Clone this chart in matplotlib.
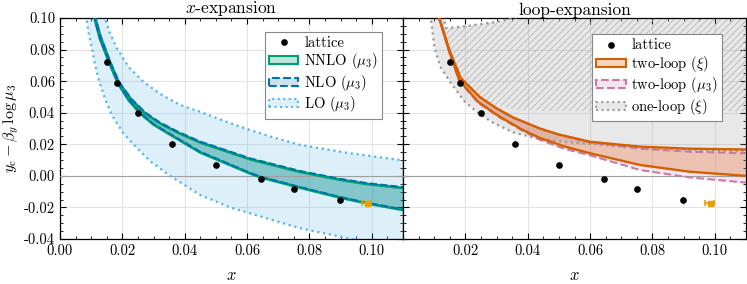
import numpy as np
import matplotlib
matplotlib.use("Agg")
import matplotlib.pyplot as plt
from matplotlib.patches import Patch
from matplotlib.lines import Line2D

plt.rcParams['font.family'] = 'serif'
plt.rcParams['font.serif'] = ['cmr10']
plt.rcParams['mathtext.fontset'] = 'cm'
plt.rcParams['axes.formatter.use_mathtext'] = True
plt.rcParams['hatch.linewidth'] = 0.6
plt.rcParams['hatch.color'] = '#b5b5b5'

# lattice data
lat_x = [0.0152, 0.0182, 0.0250, 0.0359, 0.0500, 0.0645, 0.0750, 0.0897]
lat_y = [0.0719, 0.0588, 0.0398, 0.0202, 0.0067, -0.0018, -0.0085, -0.0155]
extra_x = [0.0983]
extra_y = [-0.0175]
extra_xerr = [0.0015]

# x-expansion curves
nnlo_up_x = [0.0110, 0.0130, 0.0161, 0.0190, 0.0230, 0.0273, 0.0320, 0.0380, 0.0449, 0.0610, 0.0770, 0.0899, 0.0985, 0.1100]
nnlo_up_y = [0.1020, 0.0880, 0.0717, 0.0586, 0.0480, 0.0396, 0.0333, 0.0272, 0.0212, 0.0105, 0.0025, -0.0025, -0.0052, -0.0077]
nnlo_lo_x = [0.0108, 0.0128, 0.0158, 0.0186, 0.0220, 0.0257, 0.0300, 0.0353, 0.0449, 0.0610, 0.0645, 0.0770, 0.0899, 0.0985, 0.1100]
nnlo_lo_y = [0.1020, 0.0870, 0.0717, 0.0586, 0.0480, 0.0396, 0.0325, 0.0262, 0.0149, 0.0015, -0.0010, -0.0075, -0.0138, -0.0175, -0.0216]

nlo_up_x = [0.0110, 0.0130, 0.0161, 0.0190, 0.0230, 0.0273, 0.0320, 0.0380, 0.0449, 0.0610, 0.0770, 0.0899, 0.0985, 0.1100]
nlo_up_y = [0.1026, 0.0886, 0.0723, 0.0592, 0.0486, 0.0402, 0.0339, 0.0278, 0.0218, 0.0111, 0.0031, -0.0019, -0.0046, -0.0071]
nlo_lo_x = [0.0108, 0.0128, 0.0158, 0.0186, 0.0220, 0.0257, 0.0300, 0.0353, 0.0449, 0.0610, 0.0645, 0.0770, 0.0899, 0.0985, 0.1100]
nlo_lo_y = [0.1024, 0.0874, 0.0721, 0.0590, 0.0484, 0.0400, 0.0329, 0.0266, 0.0153, 0.0019, -0.0006, -0.0071, -0.0134, -0.0171, -0.0212]

lo_up_x = [0.0140, 0.0160, 0.0182, 0.0220, 0.0267, 0.0320, 0.0385, 0.0449, 0.0530, 0.0610, 0.0690, 0.0770, 0.0930, 0.1100]
lo_up_y = [0.1020, 0.0905, 0.0810, 0.0690, 0.0597, 0.0520, 0.0449, 0.0406, 0.0345, 0.0290, 0.0240, 0.0196, 0.0143, 0.0098]
lo_lo_x = [0.0083, 0.0092, 0.0102, 0.0113, 0.0126, 0.0145, 0.0166, 0.0203, 0.0235, 0.0290, 0.0353, 0.0449, 0.0546, 0.0610, 0.0770, 0.0899, 0.1100]
lo_lo_y = [0.1020, 0.0905, 0.0810, 0.0700, 0.0597, 0.0485, 0.0386, 0.0270, 0.0200, 0.0092, 0.0000, -0.0121, -0.0200, -0.0237, -0.0332, -0.0385, -0.0470]

# loop-expansion curves
xi2_up_x = [0.0113, 0.0150, 0.0185, 0.0246, 0.0300, 0.0353, 0.0439, 0.0500, 0.0600, 0.0760, 0.0920, 0.1100]
xi2_up_y = [0.1020, 0.0790, 0.0620, 0.0500, 0.0428, 0.0370, 0.0300, 0.0262, 0.0216, 0.0185, 0.0172, 0.0167]
xi2_lo_x = [0.0113, 0.0148, 0.0180, 0.0240, 0.0310, 0.0380, 0.0439, 0.0520, 0.0600, 0.0760, 0.0920, 0.1100]
xi2_lo_y = [0.1020, 0.0790, 0.0607, 0.0470, 0.0375, 0.0295, 0.0240, 0.0185, 0.0143, 0.0069, 0.0026, 0.0000]

mu2_up_x = [0.0113, 0.0150, 0.0185, 0.0246, 0.0300, 0.0353, 0.0439, 0.0500, 0.0600, 0.0760, 0.0920, 0.1100]
mu2_up_y = [0.1018, 0.0788, 0.0618, 0.0498, 0.0426, 0.0368, 0.0298, 0.0259, 0.0211, 0.0172, 0.0153, 0.0143]
mu2_lo_x = [0.0113, 0.0148, 0.0180, 0.0240, 0.0310, 0.0380, 0.0439, 0.0520, 0.0600, 0.0760, 0.0920, 0.1100]
mu2_lo_y = [0.1016, 0.0786, 0.0602, 0.0465, 0.0370, 0.0290, 0.0228, 0.0170, 0.0130, 0.0037, -0.0010, -0.0043]

xi1_up_x = [0.0088, 0.0125, 0.0139, 0.0200, 0.0300, 0.0352, 0.0450, 0.0600, 0.1100]
xi1_up_y = [0.1250, 0.1040, 0.0935, 0.0948, 0.0975, 0.1000, 0.1040, 0.1100, 0.1300]
xi1_lo_x = [0.0088, 0.0101, 0.0120, 0.0150, 0.0198, 0.0240, 0.0283, 0.0353, 0.0428, 0.0500, 0.0600, 0.0760, 0.0920, 0.1100]
xi1_lo_y = [0.1020, 0.0810, 0.0690, 0.0597, 0.0470, 0.0400, 0.0343, 0.0275, 0.0238, 0.0218, 0.0203, 0.0177, 0.0163, 0.0155]

hatch_lo_x = [0.0113, 0.0150, 0.0185, 0.0246, 0.0300, 0.0360, 0.0450, 0.1100]
hatch_lo_y = [0.1020, 0.0790, 0.0620, 0.0500, 0.0445, 0.0420, 0.0412, 0.0410]

GREEN = '#009E73'
BLUE = '#0072B2'
SKY = '#56B4E9'
ORANGE = '#E69F00'
VERM = '#D55E00'
PINK = '#CC79A7'
GRAY = '#999999'


def band(ax, xl, yl, xu, yu, **kw):
    px = np.r_[xl, np.array(xu)[::-1]]
    py = np.r_[yl, np.array(yu)[::-1]]
    ax.fill(px, py, **kw)


def lattice(ax):
    ax.errorbar(lat_x, lat_y, xerr=0.0008, fmt='o', color='k', ms=3.8,
                ecolor='#9db4cc', elinewidth=1.0, zorder=8)
    ax.errorbar(extra_x, extra_y, xerr=extra_xerr, fmt='s', color=ORANGE,
                ms=3.6, elinewidth=1.2, capsize=2.5, capthick=1.2, zorder=8)


fig, (ax1, ax2) = plt.subplots(1, 2, figsize=(7.47, 2.84), dpi=100, sharey=True)
plt.subplots_adjust(left=0.0803, right=0.9987, top=0.9366, bottom=0.1585, wspace=0)

# left: x-expansion
band(ax1, lo_lo_x, lo_lo_y, lo_up_x, lo_up_y, facecolor=SKY, alpha=0.2, lw=0, zorder=1)
band(ax1, nlo_lo_x, nlo_lo_y, nlo_up_x, nlo_up_y, facecolor=BLUE, alpha=0.2, lw=0, zorder=2)
band(ax1, nnlo_lo_x, nnlo_lo_y, nnlo_up_x, nnlo_up_y, facecolor=GREEN, alpha=0.25, lw=0, zorder=3)
ax1.plot(lo_up_x, lo_up_y, ls=':', color=SKY, lw=1.6, zorder=4)
ax1.plot(lo_lo_x, lo_lo_y, ls=':', color=SKY, lw=1.6, zorder=4)
ax1.plot(nnlo_up_x, nnlo_up_y, color=GREEN, lw=2.0, zorder=5)
ax1.plot(nnlo_lo_x, nnlo_lo_y, color=GREEN, lw=2.0, zorder=5)
ax1.plot(nlo_up_x, nlo_up_y, ls='--', color=BLUE, lw=1.4, zorder=6)
ax1.plot(nlo_lo_x, nlo_lo_y, ls='--', color=BLUE, lw=1.4, zorder=6)
lattice(ax1)

# right: loop-expansion
band(ax2, xi1_lo_x, xi1_lo_y, xi1_up_x, xi1_up_y, facecolor=GRAY, alpha=0.22, lw=0, zorder=1)
band(ax2, hatch_lo_x, hatch_lo_y, xi1_up_x, xi1_up_y, facecolor='none', hatch='/////',
     edgecolor='#b5b5b5', lw=0, zorder=1.5)
band(ax2, mu2_lo_x, mu2_lo_y, mu2_up_x, mu2_up_y, facecolor=PINK, alpha=0.18, lw=0, zorder=2)
band(ax2, xi2_lo_x, xi2_lo_y, xi2_up_x, xi2_up_y, facecolor=VERM, alpha=0.25, lw=0, zorder=3)
ax2.plot(xi1_up_x, xi1_up_y, ls=':', color=GRAY, lw=1.6, zorder=4)
ax2.plot(xi1_lo_x, xi1_lo_y, ls=':', color=GRAY, lw=1.6, zorder=4)
ax2.plot(mu2_up_x, mu2_up_y, ls='--', color=PINK, lw=1.5, zorder=5)
ax2.plot(mu2_lo_x, mu2_lo_y, ls='--', color=PINK, lw=1.5, zorder=5)
ax2.plot(xi2_up_x, xi2_up_y, color=VERM, lw=1.7, zorder=6)
ax2.plot(xi2_lo_x, xi2_lo_y, color=VERM, lw=1.7, zorder=6)
lattice(ax2)

for ax in (ax1, ax2):
    ax.set_xlim(0, 0.11)
    ax.set_ylim(-0.04, 0.10)
    ax.set_axisbelow(True)
    ax.grid(True, color='#e3e3e3', lw=0.8)
    ax.axhline(0, color='#a0a0a0', lw=0.8, zorder=3.5)
    ax.set_xticks(np.arange(0, 0.1101, 0.02))
    ax.set_xticks(np.arange(0, 0.1101, 0.005), minor=True)
    ax.set_yticks(np.arange(-0.04, 0.1001, 0.02))
    ax.set_yticks(np.arange(-0.04, 0.1001, 0.005), minor=True)
    ax.tick_params(which='both', direction='in', top=True, right=True, labelsize=10.5)
    ax.tick_params(which='major', length=4, width=0.8)
    ax.tick_params(which='minor', length=2, width=0.6)
    ax.set_xlabel(r'$x$', fontsize=12, labelpad=7)
    for s in ax.spines.values():
        s.set_linewidth(0.9)

ax1.xaxis.set_major_formatter(matplotlib.ticker.FormatStrFormatter('%.2f'))
ax1.yaxis.set_major_formatter(matplotlib.ticker.FormatStrFormatter('%.2f'))
ax2.set_xticks(np.arange(0.02, 0.1101, 0.02))
ax2.xaxis.set_major_formatter(matplotlib.ticker.FormatStrFormatter('%.2f'))
ax2.tick_params(labelleft=False)

ax1.set_ylabel(r'$y_{\mathrm{c}} - \beta_y\,\log\mu_3$', fontsize=11.5, labelpad=2)
ax1.set_title(r'$x$-expansion', fontsize=12.5, pad=2.5)
ax2.set_title('loop-expansion', fontsize=12.5, pad=2.5)

leg_kw = dict(fontsize=10.5, labelspacing=0.1, handlelength=2.0, handleheight=0.45,
              handletextpad=0.4, borderpad=0.3, borderaxespad=0, fancybox=False,
              framealpha=1, edgecolor='#888888', loc='upper right')

h1 = [Line2D([], [], marker='o', color='k', ls='none', ms=3.8),
      Patch(facecolor=(0.0, 0.62, 0.45, 0.25), edgecolor=GREEN, lw=1.5),
      Patch(facecolor=(0.0, 0.45, 0.70, 0.2), edgecolor=BLUE, lw=1.5, ls='--'),
      Patch(facecolor=(0.34, 0.71, 0.91, 0.2), edgecolor=SKY, lw=1.5, ls=':')]
l1 = ax1.legend(h1, ['lattice', r'NNLO ($\mu_3$)', r'NLO ($\mu_3$)', r'LO ($\mu_3$)'],
                bbox_to_anchor=(0.94, 0.937), **leg_kw)
l1.get_frame().set_linewidth(0.8)
l1.set_zorder(10)

h2 = [Line2D([], [], marker='o', color='k', ls='none', ms=3.8),
      Patch(facecolor=(0.84, 0.37, 0.0, 0.25), edgecolor=VERM, lw=1.5),
      Patch(facecolor=(0.8, 0.47, 0.65, 0.18), edgecolor=PINK, lw=1.5, ls='--'),
      Patch(facecolor=(0.6, 0.6, 0.6, 0.22), edgecolor=GRAY, lw=1.5, ls=':')]
l2 = ax2.legend(h2, ['lattice', r'two-loop ($\xi$)', r'two-loop ($\mu_3$)', r'one-loop ($\xi$)'],
                bbox_to_anchor=(0.931, 0.926), **leg_kw)
l2.get_frame().set_linewidth(0.8)
l2.set_zorder(10)

fig.savefig('out.png', dpi=100)
